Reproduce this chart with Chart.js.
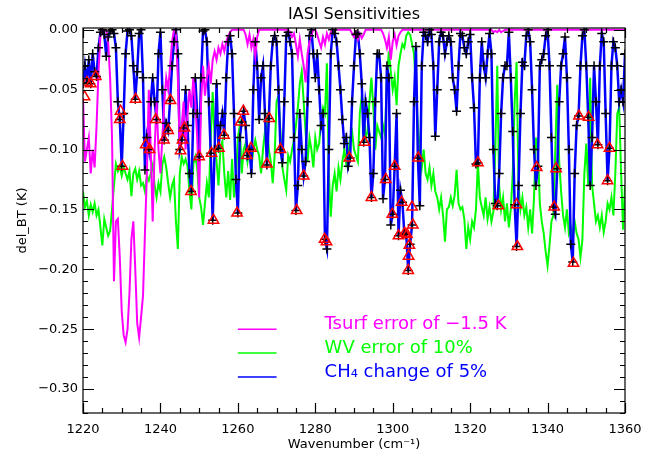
<!DOCTYPE html>
<html>
<head>
<meta charset="utf-8">
<script src="https://cdn.jsdelivr.net/npm/chart.js@4.4.1/dist/chart.umd.min.js"></script>
<style>
  html, body { margin: 0; padding: 0; background: #fff; }
  canvas { display: block; }
</style>
</head>
<body>
<canvas id="chart" width="653" height="456"></canvas>
<script>
// sampling grid of the three spectra: 1220 to 1360 cm-1, every 0.5 cm-1
const wnStart = 1220;
const wnStep = 0.5;

// CH4 change of 5% (one row = 5 cm-1)
const ch4 = [
  -0.045, -0.03, -0.044, -0.025, -0.045, -0.02, -0.035, -0.039, -0.015, -0.002,
  0, -0.004, -0.022, -0.006, -0.001, 0, -0.003, -0.015, -0.06, -0.075,
  -0.114, -0.07, -0.02, -0.001, 0, -0.005, -0.03, -0.058, -0.035, -0.003,
  0, -0.04, -0.117, -0.09, -0.1, -0.06, -0.04, -0.06, -0.075, -0.02,
  -0.002, -0.05, -0.092, -0.078, -0.084, -0.059, -0.03, -0.01, 0, -0.02,
  -0.1, -0.092, -0.082, -0.05, -0.08, -0.12, -0.135, -0.07, -0.04, -0.07,
  -0.106, -0.04, -0.001, 0, -0.01, -0.06, -0.103, -0.159, -0.1, -0.045,
  -0.099, -0.08, -0.07, -0.088, -0.04, -0.01, -0.005, -0.02, -0.07, -0.125,
  -0.153, -0.09, -0.077, -0.068, -0.08, -0.105, -0.1, -0.12, -0.05, -0.01,
  -0.03, -0.075, -0.04, -0.03, -0.07, -0.113, -0.074, -0.03, -0.01, -0.005,
  -0.01, -0.05, -0.1, -0.111, -0.06, -0.005, -0.002, -0.01, -0.02, -0.09,
  -0.151, -0.13, -0.07, -0.1, -0.122, -0.11, -0.06, -0.005, 0, -0.02,
  -0.04, -0.02, -0.05, -0.08, -0.07, -0.175, -0.183, -0.1, -0.02, 0,
  -0.003, -0.01, -0.03, -0.05, -0.075, -0.095, -0.09, -0.114, -0.107, -0.06,
  -0.03, -0.004, -0.003, -0.02, -0.045, -0.094, -0.06, -0.07, -0.09, -0.14,
  -0.12, -0.06, -0.02, -0.02, -0.04, -0.141, -0.125, -0.03, -0.04, -0.163,
  -0.154, -0.114, -0.07, -0.172, -0.134, -0.144, -0.17, -0.171, -0.201, -0.179,
  -0.163, -0.06, -0.014, -0.107, -0.147, -0.03, -0.002, -0.005, -0.01, 0,
  -0.004, -0.03, -0.089, -0.05, -0.01, -0.002, -0.005, -0.02, -0.01, -0.005,
  -0.01, -0.04, -0.05, -0.068, -0.03, -0.003, -0.005, -0.015, -0.02, -0.01,
  -0.004, -0.04, -0.065, -0.112, -0.111, -0.04, -0.01, -0.03, -0.04, -0.02,
  -0.003, -0.02, -0.1, -0.145, -0.147, -0.12, -0.07, -0.04, -0.03, -0.03,
  -0.002, -0.04, -0.085, -0.146, -0.181, -0.13, -0.07, -0.027, -0.03, -0.005,
  0, -0.01, -0.05, -0.1, -0.13, -0.114, -0.03, -0.025, -0.02, -0.005,
  0, -0.03, -0.09, -0.148, -0.154, -0.116, -0.06, -0.03, -0.02, -0.006,
  -0.04, -0.1, -0.179, -0.194, -0.12, -0.08, -0.072, -0.03, -0.005, 0,
  -0.03, -0.073, -0.13, -0.09, -0.03, -0.06, -0.096, -0.03, -0.003, -0.01,
  -0.07, -0.126, -0.099, -0.03, -0.01, -0.015, -0.03, -0.06, -0.05, -0.06,
  -0.02
];

// WV error of 10%
const wv = [
  -0.135, -0.148, -0.143, -0.155, -0.146, -0.152, -0.145, -0.155, -0.15, -0.165,
  -0.18, -0.158, -0.165, -0.172, -0.168, -0.15, -0.13, -0.112, -0.118, -0.114,
  -0.122, -0.115, -0.12, -0.125, -0.118, -0.139, -0.12, -0.116, -0.125, -0.118,
  -0.13, -0.128, -0.135, -0.122, -0.126, -0.12, -0.113, -0.13, -0.14, -0.128,
  -0.135, -0.112, -0.106, -0.115, -0.128, -0.14, -0.13, -0.125, -0.16, -0.183,
  -0.12, -0.106, -0.112, -0.108, -0.114, -0.135, -0.15, -0.112, -0.106, -0.115,
  -0.14, -0.148, -0.163, -0.145, -0.128, -0.14, -0.09, -0.052, -0.09, -0.11,
  -0.13, -0.1, -0.093, -0.12, -0.14, -0.118, -0.142, -0.108, -0.14, -0.125,
  -0.09, -0.08, -0.12, -0.1, -0.095, -0.11, -0.1, -0.115, -0.1, -0.092,
  -0.1, -0.105, -0.12, -0.1, -0.085, -0.075, -0.1, -0.11, -0.128, -0.105,
  -0.06, -0.055, -0.085, -0.115, -0.125, -0.134, -0.105, -0.11, -0.1, -0.092,
  -0.08, -0.065, -0.045, -0.035, -0.06, -0.085, -0.11, -0.09, -0.1, -0.115,
  -0.09, -0.1, -0.095, -0.075, -0.065, -0.07, -0.028, -0.12, -0.156, -0.13,
  -0.12, -0.135, -0.115, -0.125, -0.11, -0.1, -0.112, -0.105, -0.09, -0.085,
  -0.1, -0.105, -0.11, -0.07, -0.055, -0.065, -0.09, -0.085, -0.06, -0.04,
  -0.065, -0.1, -0.08, -0.085, -0.09, -0.08, -0.088, -0.04, -0.018, -0.035,
  -0.05, -0.04, -0.063, -0.03, -0.02, -0.012, -0.015, -0.005, -0.002, -0.004,
  -0.012, -0.02, -0.05, -0.08, -0.1, -0.115, -0.1, -0.12, -0.125, -0.115,
  -0.13, -0.12, -0.135, -0.14, -0.15, -0.14, -0.155, -0.177, -0.15, -0.148,
  -0.14, -0.147, -0.138, -0.117, -0.145, -0.15, -0.148, -0.158, -0.183, -0.165,
  -0.175, -0.16, -0.165, -0.15, -0.111, -0.14, -0.148, -0.155, -0.14, -0.158,
  -0.148, -0.16, -0.152, -0.1, -0.03, -0.13, -0.15, -0.14, -0.16, -0.145,
  -0.165, -0.15, -0.12, -0.06, -0.027, -0.13, -0.15, -0.14, -0.155, -0.148,
  -0.165, -0.15, -0.17, -0.14, -0.09, -0.1, -0.145, -0.16, -0.17, -0.185,
  -0.197, -0.18, -0.16, -0.155, -0.1, -0.046, -0.11, -0.135, -0.155, -0.165,
  -0.15, -0.17, -0.165, -0.175, -0.16, -0.17, -0.175, -0.19, -0.175, -0.12,
  -0.095, -0.13, -0.04, -0.13, -0.145, -0.16, -0.155, -0.165, -0.155, -0.169,
  -0.16, -0.145, -0.15, -0.14, -0.155, -0.12, -0.07, -0.065, -0.12, -0.167,
  -0.13
];

// Tsurf error of -1.5 K
const tsurf = [
  -0.057, -0.11, -0.1, -0.09, -0.12, -0.1, -0.115, -0.08, -0.035, -0.005,
  0, 0, -0.001, -0.01, -0.04, -0.09, -0.21, -0.16, -0.158, -0.19,
  -0.235, -0.255, -0.261, -0.25, -0.22, -0.175, -0.16, -0.2, -0.245, -0.257,
  -0.24, -0.222, -0.17, -0.12, -0.05, -0.1, -0.16, -0.1, -0.06, -0.1,
  -0.12, -0.09, -0.06, -0.04, -0.05, -0.03, -0.01, 0, -0.002, -0.04,
  -0.1, -0.08, -0.06, -0.1, -0.07, -0.05, -0.065, -0.04, -0.06, -0.09,
  -0.14, -0.06, -0.03, -0.055, -0.04, -0.03, -0.045, -0.025, -0.018, -0.025,
  -0.015, -0.02, -0.012, -0.018, -0.01, -0.005, -0.002, 0, 0, 0,
  0, 0, 0, 0, -0.004, -0.012, -0.004, -0.015, -0.008, -0.022,
  -0.006, 0, 0, 0, 0, 0, 0, 0, 0, 0,
  0, 0, 0, 0, 0, 0, 0, -0.002, -0.006, -0.003,
  -0.012, -0.022, -0.008, -0.02, -0.03, -0.044, -0.02, -0.01, -0.004, 0,
  0, -0.004, -0.01, -0.015, -0.006, -0.012, -0.003, -0.008, -0.002, 0,
  0, 0, 0, 0, 0, 0, 0, 0, 0, -0.003,
  -0.006, -0.002, -0.008, -0.003, -0.007, -0.004, 0, 0, 0, 0,
  0, 0, 0, 0, 0, -0.003, -0.008, -0.015, -0.006, -0.025,
  -0.01, -0.004, -0.013, -0.005, -0.002, 0, 0, 0, 0, 0,
  0, 0, 0, 0, 0, 0, 0, 0, 0, 0,
  0, 0, 0, 0, 0, 0, 0, 0, 0, 0,
  0, 0, 0, 0, 0, 0, 0, 0, 0, 0,
  0, 0, 0, 0, 0, 0, 0, 0, 0, 0,
  0, 0, -0.002, -0.001, -0.002, 0, -0.002, -0.001, 0, 0,
  0, 0, 0, 0, 0, 0, 0, 0, 0, 0,
  0, 0, 0, 0, 0, 0, 0, 0, 0, 0,
  0, 0, 0, 0, 0, 0, 0, 0, 0, 0,
  0, 0, 0, 0, 0, 0, 0, 0, 0, 0,
  0, 0, 0, 0, 0, 0, 0, 0, 0, 0,
  0, 0, 0, 0, 0, 0, 0, 0, 0, 0,
  0
];

// selected channels (red triangles)
const selX = [1220.4, 1221.0, 1222.0, 1223.3, 1229.5, 1229.7, 1230.2, 1233.6, 1236.2, 1237.2,
  1238.8, 1240.9, 1242.0, 1242.6, 1245.2, 1245.7, 1246.2, 1247.9, 1250.0, 1253.2,
  1253.7, 1255.1, 1256.4, 1259.8, 1260.7, 1261.4, 1262.3, 1263.4, 1267.5, 1268.1,
  1271.0, 1275.2, 1277.0, 1282.4, 1282.9, 1288.8, 1292.7, 1294.5, 1298.2, 1299.9,
  1300.5, 1301.5, 1302.3, 1303.1, 1303.7, 1304.3, 1304.1, 1304.0, 1305.0, 1305.2,
  1306.6, 1322.0, 1327.3, 1332.0, 1332.2, 1337.2, 1342.2, 1341.7, 1346.7, 1348.1,
  1350.6, 1352.9, 1356.0, 1355.5];
const selY = [-0.056, -0.044, -0.045, -0.039, -0.075, -0.068, -0.114, -0.058, -0.096, -0.100,
  -0.075, -0.092, -0.084, -0.059, -0.101, -0.092, -0.082, -0.135, -0.106, -0.103,
  -0.159, -0.099, -0.088, -0.153, -0.077, -0.068, -0.105, -0.099, -0.112, -0.074,
  -0.100, -0.151, -0.122, -0.175, -0.177, -0.107, -0.094, -0.140, -0.125, -0.154,
  -0.114, -0.172, -0.144, -0.170, -0.171, -0.180, -0.189, -0.201, -0.148, -0.163,
  -0.107, -0.111, -0.147, -0.146, -0.181, -0.115, -0.116, -0.148, -0.195, -0.072,
  -0.073, -0.096, -0.099, -0.126];

const xTicks = [1220, 1240, 1260, 1280, 1300, 1320, 1340, 1360];
const yTicks = [0, -0.05, -0.10, -0.15, -0.20, -0.25, -0.30];

const legendItems = [
  { text: 'Tsurf error of \u22121.5 K', color: '#ff00ff' },
  { text: 'WV error of 10%', color: '#00ff00' },
  { text: 'CH\u2084 change of 5%', color: '#0000ff' }
];

const FONT = 'DejaVu Sans';

function toPoints(arr) {
  return arr.map((v, i) => ({ x: wnStart + i * wnStep, y: v }));
}

// box, inward ticks on all four sides and the in-plot legend
const frame = {
  id: 'frame',
  afterDatasetsDraw(chart) {
    const { ctx, chartArea: a, scales: { x, y } } = chart;
    ctx.save();
    ctx.strokeStyle = '#000';
    ctx.lineWidth = 1.2;
    ctx.strokeRect(a.left, a.top, a.right - a.left, a.bottom - a.top);
    ctx.beginPath();
    for (let v = 1220; v <= 1360; v += 5) {
      const px = Math.round(x.getPixelForValue(v)) + 0.5;
      const len = v % 20 === 0 ? 10 : 5;
      ctx.moveTo(px, a.bottom); ctx.lineTo(px, a.bottom - len);
      ctx.moveTo(px, a.top); ctx.lineTo(px, a.top + len);
    }
    for (let k = 0; k <= 32; k++) {
      const py = Math.round(y.getPixelForValue(-k / 100)) + 0.5;
      const len = k % 5 === 0 ? 11 : 5;
      ctx.moveTo(a.left, py); ctx.lineTo(a.left + len, py);
      ctx.moveTo(a.right, py); ctx.lineTo(a.right - len, py);
    }
    ctx.stroke();

    // legend, placed in data units like the original
    ctx.font = '18px "' + FONT + '"';
    ctx.textBaseline = 'middle';
    ctx.textAlign = 'left';
    legendItems.forEach((item, i) => {
      const py = y.getPixelForValue(-0.25 - i * 0.02);
      ctx.strokeStyle = item.color;
      ctx.lineWidth = 1.5;
      ctx.beginPath();
      ctx.moveTo(x.getPixelForValue(1260), py);
      ctx.lineTo(x.getPixelForValue(1270), py);
      ctx.stroke();
      ctx.fillStyle = item.color;
      ctx.fillText(item.text, x.getPixelForValue(1282.4), py - 5);
    });
    ctx.restore();
  }
};

new Chart(document.getElementById('chart'), {
  type: 'line',
  data: {
    datasets: [
      {
        data: toPoints(wv), borderColor: '#00ff00', borderWidth: 2,
        pointRadius: 0, order: 4
      },
      {
        data: toPoints(ch4), borderColor: '#0000ff', borderWidth: 2.5,
        pointRadius: 0, order: 3
      },
      {
        data: toPoints(tsurf), borderColor: '#ff00ff', borderWidth: 2,
        pointRadius: 0, order: 2
      },
      {
        data: toPoints(ch4), showLine: false, pointStyle: 'cross',
        pointRadius: 4.5, pointBorderColor: '#000', pointBorderWidth: 1.5, order: 1
      },
      {
        data: selX.map((v, i) => ({ x: v, y: selY[i] })), showLine: false,
        pointStyle: 'triangle', pointRadius: 6, pointBorderColor: '#ff0000',
        pointBackgroundColor: 'rgba(0,0,0,0)', pointBorderWidth: 1.5, order: 0
      }
    ]
  },
  options: {
    responsive: false,
    animation: false,
    events: [],
    layout: { padding: { top: 0, right: 28, bottom: 0, left: 0 } },
    plugins: {
      legend: { display: false },
      tooltip: { enabled: false },
      title: {
        display: true,
        text: 'IASI Sensitivities',
        fullSize: false,
        color: '#000',
        font: { family: FONT, size: 16, weight: 'normal', lineHeight: 1.2 },
        padding: { top: 5.4, bottom: 3.4 }
      }
    },
    scales: {
      x: {
        type: 'linear',
        min: 1220,
        max: 1360,
        grid: { display: false, drawTicks: false },
        border: { display: false },
        afterFit: (s) => { s.height = 43; },
        afterBuildTicks: (s) => { s.ticks = xTicks.map(v => ({ value: v })); },
        ticks: {
          padding: 9, color: '#000', maxRotation: 0, autoSkip: false,
          font: { family: FONT, size: 13 },
          callback: (v) => String(v)
        },
        title: {
          display: true, text: 'Wavenumber (cm\u207B\u00B9)', color: '#000',
          font: { family: FONT, size: 13, lineHeight: 1.2 },
          padding: { top: 0, bottom: 3.2 }
        }
      },
      y: {
        type: 'linear',
        min: -0.32,
        max: 0.0015,
        grid: { display: false, drawTicks: false },
        border: { display: false },
        afterFit: (s) => { s.width = 83; },
        afterBuildTicks: (s) => { s.ticks = yTicks.map(v => ({ value: v })); },
        ticks: {
          padding: 5, color: '#000', autoSkip: false,
          font: { family: FONT, size: 13 },
          callback: (v) => v.toFixed(2).replace('-', '\u2212')
        },
        title: {
          display: true, text: 'del_BT (K)', color: '#000',
          font: { family: FONT, size: 13, lineHeight: 1.2 },
          padding: { top: 15, bottom: 0 }
        }
      }
    }
  },
  plugins: [frame]
});
</script>
</body>
</html>
